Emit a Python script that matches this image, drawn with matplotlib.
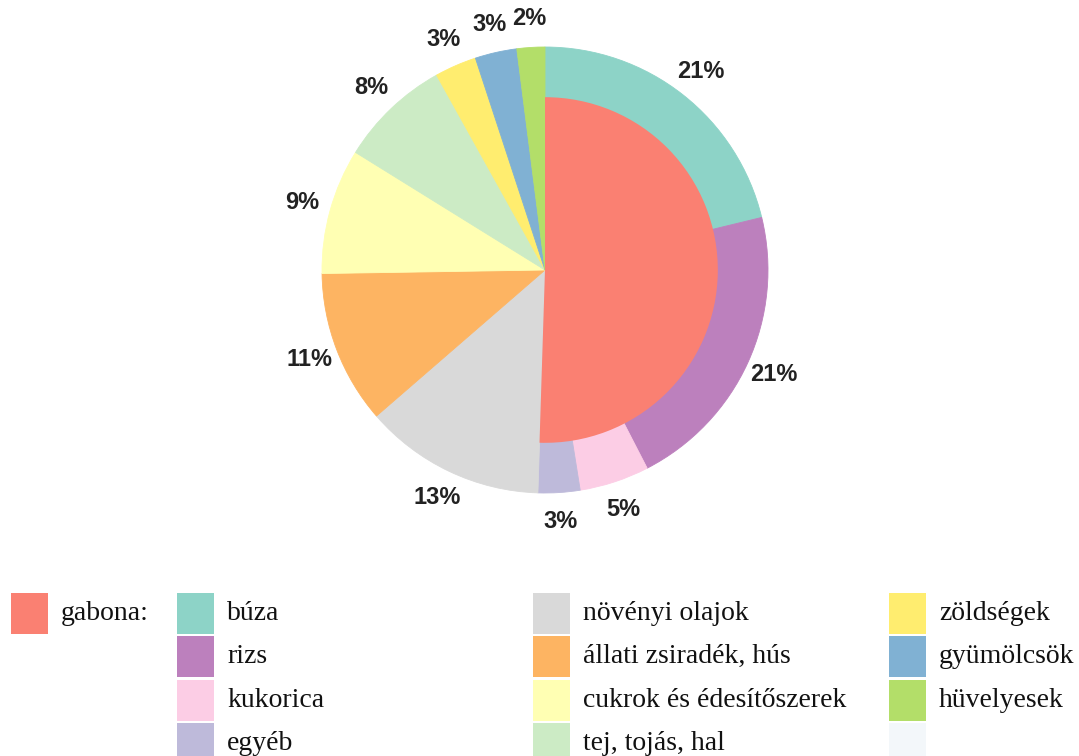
import matplotlib
matplotlib.use('Agg')
import matplotlib.pyplot as plt
from matplotlib.patches import Rectangle

# outer ring, clockwise from the top
categories = ['búza', 'rizs', 'kukorica', 'egyéb', 'növényi olajok', 'állati zsiradék, hús',
              'cukrok és édesítőszerek', 'tej, tojás, hal', 'zöldségek', 'gyümölcsök', 'hüvelyesek']
shares = [21, 21, 5, 3, 13, 11, 9, 8, 3, 3, 2]
colors = ['#8DD3C7', '#BC80BD', '#FCCDE5', '#BEBADA', '#D9D9D9', '#FDB462',
          '#FFFFB3', '#CCEBC5', '#FFED6F', '#80B1D3', '#B3DE69']
# inner half: gabona = first four entries
n_cereal = 4
gabona_color = '#FA8072'

W, H = 1079, 756
fig = plt.figure(figsize=(W / 100, H / 100), dpi=100)

# pie axes, square, centre at (545, 270) px, radius 223 px
cx, cy, r = 545, 270, 223
ax = fig.add_axes([(cx - r) / W, (H - cy - r) / H, 2 * r / W, 2 * r / H])

total = sum(shares)
vals = iter(shares)
wedges, texts, autotexts = ax.pie(shares, colors=colors, startangle=90, counterclock=False,
                                  radius=1.0, autopct=lambda p: '%d%%' % next(vals),
                                  pctdistance=1.13,
                                  wedgeprops=dict(linewidth=0.6),
                                  textprops=dict(fontsize=17, fontweight='bold',
                                                 family='Liberation Sans', color='#222222'))
for w, c in zip(wedges, colors):
    w.set_edgecolor(c)

gabona = sum(shares[:n_cereal])
ax.pie([gabona, total - gabona], colors=[gabona_color, 'none'], startangle=90,
       counterclock=False, radius=0.775, wedgeprops=dict(linewidth=0))
ax.set_xlim(-1, 1)
ax.set_ylim(-1, 1)
ax.set_aspect('equal')
ax.axis('off')

# legend drawn by hand in pixel coordinates
lg = fig.add_axes([0, 0, 1, 1])
lg.set_xlim(0, W)
lg.set_ylim(H, 0)
lg.axis('off')

columns = [
    [('gabona:', gabona_color)],
    list(zip(categories[0:4], colors[0:4])),
    list(zip(categories[4:8], colors[4:8])),
    list(zip(categories[8:11], colors[8:11])) + [('', '#F3F7FA')],
]
col_x = [11, 177, 533, 889]
row_top, row_pitch, sw_w, sw_h = 593, 43.3, 37, 41
for x0, col in zip(col_x, columns):
    for i, (lab, c) in enumerate(col):
        y0 = row_top + i * row_pitch
        lg.add_patch(Rectangle((x0, y0), sw_w, sw_h, facecolor=c, edgecolor='none'))
        lg.text(x0 + sw_w + 13, y0 + sw_h / 2, lab, fontsize=20, family='Liberation Serif',
                va='center', ha='left', color='#111111')

fig.savefig('out.png', dpi=100)
